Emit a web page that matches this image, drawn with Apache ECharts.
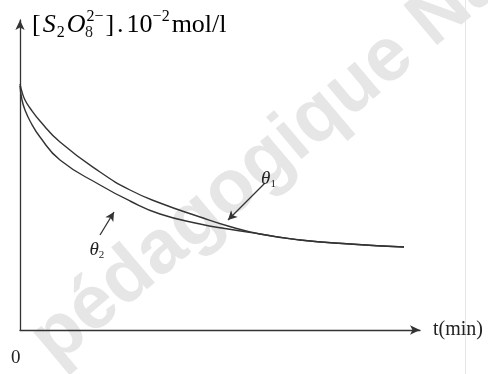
<!DOCTYPE html>
<html>
<head>
<meta charset="utf-8">
<script src="https://cdn.jsdelivr.net/npm/echarts@6/dist/echarts.min.js"></script>
<style>
  html, body { margin: 0; padding: 0; background: #fff; }
  #chart { width: 488px; height: 374px; }
</style>
</head>
<body>
<div id="chart"></div>
<script>
// t (min), arbitrary scale 0..100 along the axis
const times = [0, 0.5, 1.25, 2.5, 5, 10, 20, 27.5, 35, 45, 52, 60, 70, 82.5, 96]
// concentration curves (arbitrary units)
const theta1 = [246, 238, 230, 222, 209, 188, 158, 140, 127, 113, 104, 96, 90, 86, 83]
const theta2 = [244, 230, 220, 209, 193, 170, 145, 129, 116, 106, 101, 96, 90, 86, 83]
// annotation arrows: [tail, head] in data coords
const arrow1 = [[61.25, 147], [52, 110]]
const arrow2 = [[20, 95], [23.5, 118]]

const serif = '"Liberation Serif", "DejaVu Serif", serif'
const ink = '#333'

const chart = echarts.init(document.getElementById('chart'))

const pairs = vals => times.map((t, i) => [t, vals[i]])

const arrowLine = (pts, sub, dist) => ({
  silent: true,
  symbol: ['none', 'arrow'],
  symbolSize: [7, 9],
  lineStyle: { color: ink, width: 1.3, type: 'solid' },
  label: {
    show: true,
    position: 'start',
    distance: dist,
    formatter: '{t|θ}{s|' + sub + '}',
    rich: {
      t: { fontFamily: serif, fontStyle: 'italic', fontSize: 19, color: '#222' },
      s: { fontFamily: serif, fontSize: 11, color: '#222', verticalAlign: 'bottom', padding: [9, 0, 0, 0] }
    }
  },
  data: [[{ coord: pts[0] }, { coord: pts[1] }]]
})

const curve = (name, vals, sub, pts, dist) => ({
  name,
  type: 'line',
  data: pairs(vals),
  smooth: 0.5,
  showSymbol: false,
  lineStyle: { color: ink, width: 1.4 },
  markLine: arrowLine(pts, sub, dist)
})

chart.setOption({
  animation: false,
  grid: { left: 20, right: 68, top: 20, bottom: 44 },
  xAxis: {
    type: 'value',
    min: 0,
    max: 100,
    name: 't(min)',
    nameLocation: 'end',
    nameGap: 13,
    nameTextStyle: { fontFamily: serif, fontSize: 20, color: '#222' },
    axisLine: { show: true, symbol: ['none', 'arrow'], symbolSize: [7, 10], lineStyle: { color: ink, width: 1.3 } },
    axisTick: { show: false },
    axisLabel: { show: false },
    splitLine: { show: false }
  },
  yAxis: {
    type: 'value',
    min: 0,
    max: 310,
    axisLine: { show: true, symbol: ['none', 'arrow'], symbolSize: [7, 10], lineStyle: { color: ink, width: 1.3 } },
    axisTick: { show: false },
    axisLabel: { show: false },
    splitLine: { show: false }
  },
  graphic: [
    {
      type: 'text', z: -10, x: 268, y: 160, rotation: 0.7,
      style: {
        text: 'pédagogique Na', fill: '#e6e6e6',
        font: 'bold 76px "Liberation Sans", sans-serif',
        align: 'center', verticalAlign: 'middle'
      }
    },
    { type: 'line', z: -10, shape: { x1: 465.5, y1: 0, x2: 465.5, y2: 374 }, style: { stroke: '#e6e6e6', lineWidth: 1 } },
    {
      type: 'text', left: 32, top: 9,
      style: {
        text: '{b|[}{i|S}{sub|2}{i|O}{sup|2−}{b|]}{dot|.}{b|10}{sup|−2}{b|mol/l}',
        rich: {
          b: { fontFamily: serif, fontSize: 26, color: '#222', lineHeight: 32 },
          dot: { fontFamily: serif, fontSize: 26, color: '#222', lineHeight: 32, padding: [0, 3, 0, 3] },
          i: { fontFamily: serif, fontStyle: 'italic', fontSize: 26, color: '#222', lineHeight: 32, padding: [0, 1, 0, 2] },
          sub: { fontFamily: serif, fontSize: 16, color: '#222', verticalAlign: 'bottom', lineHeight: 16 },
          sup: { fontFamily: serif, fontSize: 16, color: '#222', verticalAlign: 'top', lineHeight: 16, padding: [0, 2, 0, 0] }
        }
      }
    },
    { type: 'text', left: 85, top: 25, style: { text: '8', fontFamily: serif, fontSize: 16, fill: '#222' } },
    { type: 'text', left: 11, top: 349, style: { text: '0', fontFamily: serif, fontSize: 19, fill: '#222' } }
  ],
  series: [
    curve('θ1', theta1, '1', arrow1, 5),
    curve('θ2', theta2, '2', arrow2, 6)
  ]
})
</script>
</body>
</html>
